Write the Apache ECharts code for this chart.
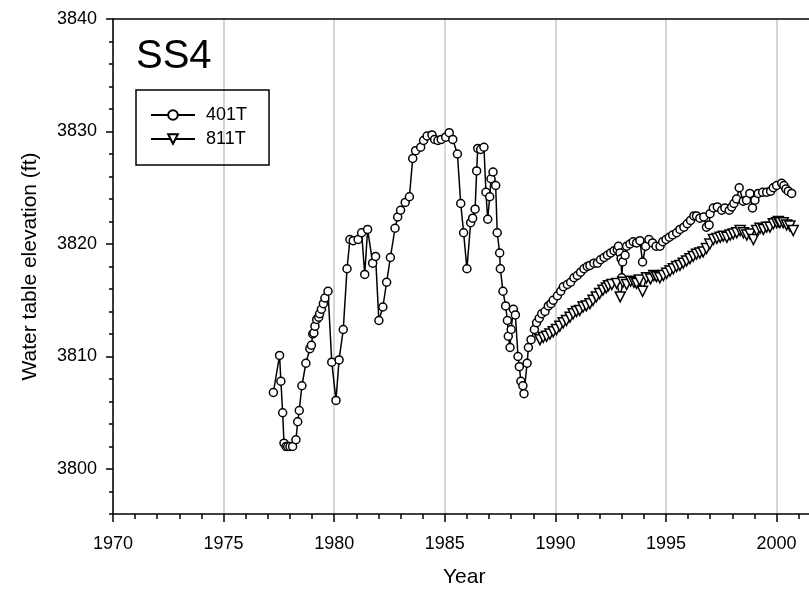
<!DOCTYPE html>
<html>
<head>
<meta charset="utf-8">
<script src="https://cdn.jsdelivr.net/npm/echarts@6/dist/echarts.min.js"></script>
<style>html,body{margin:0;padding:0;background:#fff}#c{width:809px;height:599px}</style>
</head>
<body>
<div id="c"></div>
<script>
// ---- data ----
const years401T = [1977.25,1977.53,1977.59,1977.67,1977.73,1977.82,1977.90,1978.00,1978.12,1978.27,1978.35,1978.42,1978.54,1978.72,1978.90,1978.97,1979.03,1979.08,1979.13,1979.21,1979.30,1979.34,1979.42,1979.51,1979.58,1979.72,1979.89,1980.08,1980.22,1980.41,1980.58,1980.71,1980.86,1981.08,1981.24,1981.38,1981.51,1981.74,1981.87,1982.02,1982.20,1982.37,1982.54,1982.75,1982.87,1983.00,1983.21,1983.40,1983.55,1983.68,1983.91,1984.04,1984.20,1984.42,1984.54,1984.69,1984.84,1985.04,1985.20,1985.36,1985.57,1985.72,1985.85,1986.00,1986.17,1986.26,1986.37,1986.44,1986.49,1986.62,1986.77,1986.86,1986.94,1987.03,1987.09,1987.18,1987.30,1987.37,1987.48,1987.51,1987.63,1987.75,1987.83,1987.87,1987.95,1988.00,1988.10,1988.19,1988.31,1988.37,1988.44,1988.53,1988.58,1988.72,1988.78,1988.90,
1989.05,1989.15,1989.27,1989.38,1989.53,1989.68,1989.80,1989.90,1990.09,1990.24,1990.36,1990.54,1990.69,1990.84,1990.99,1991.14,1991.29,1991.44,1991.56,1991.74,1991.90,1992.04,1992.20,1992.35,1992.50,1992.65,1992.80,1992.85,1992.92,1992.97,1993.00,1993.04,1993.15,1993.22,1993.37,1993.52,1993.67,1993.82,1993.94,1994.08,1994.23,1994.39,1994.55,1994.73,1994.85,1995.00,1995.15,1995.30,1995.48,1995.63,1995.81,1995.96,1996.11,1996.26,1996.38,1996.53,1996.71,1996.83,1996.95,1996.99,1997.14,1997.32,1997.52,1997.66,1997.86,1997.97,1998.07,1998.19,1998.31,1998.49,1998.64,1998.79,1998.91,1999.02,1999.17,1999.37,1999.55,1999.73,1999.85,2000.00,2000.23,2000.33,2000.42,2000.53,2000.68];
const values401T = [3806.8,3810.1,3807.8,3805.0,3802.3,3802.0,3802.0,3802.0,3802.0,3802.6,3804.2,3805.2,3807.4,3809.4,3810.7,3811.0,3812.0,3812.1,3812.7,3813.3,3813.5,3813.8,3814.2,3814.7,3815.2,3815.8,3809.5,3806.1,3809.7,3812.4,3817.8,3820.4,3820.3,3820.4,3821.0,3817.3,3821.3,3818.3,3818.9,3813.2,3814.4,3816.6,3818.8,3821.4,3822.4,3823.0,3823.7,3824.2,3827.6,3828.3,3828.6,3829.2,3829.6,3829.7,3829.3,3829.2,3829.3,3829.5,3829.9,3829.3,3828.0,3823.6,3821.0,3817.8,3821.9,3822.3,3823.1,3826.5,3828.5,3828.4,3828.6,3824.6,3822.2,3824.2,3825.8,3826.4,3825.2,3821.0,3819.2,3817.8,3815.8,3814.5,3813.2,3811.8,3810.8,3812.4,3814.2,3813.7,3810.0,3809.1,3807.8,3807.4,3806.7,3809.4,3810.8,3811.5,
3812.4,3813.0,3813.4,3813.8,3814.0,3814.5,3814.7,3815.0,3815.4,3815.8,3816.2,3816.4,3816.6,3817.0,3817.2,3817.5,3817.8,3818.0,3818.1,3818.3,3818.3,3818.6,3818.8,3819.0,3819.2,3819.4,3819.5,3819.8,3819.2,3818.7,3817.0,3818.4,3819.0,3819.8,3820.0,3820.2,3820.1,3820.3,3818.4,3819.8,3820.4,3820.1,3819.8,3819.8,3820.2,3820.4,3820.6,3820.8,3821.0,3821.3,3821.5,3821.8,3822.1,3822.5,3822.5,3822.3,3822.4,3821.5,3821.7,3822.7,3823.2,3823.3,3823.0,3823.2,3823.0,3823.3,3823.6,3824.0,3825.0,3823.8,3823.9,3824.5,3823.2,3823.9,3824.5,3824.6,3824.6,3824.7,3825.0,3825.2,3825.4,3825.2,3824.9,3824.7,3824.5];
const years811T = [1989.30,1989.45,1989.60,1989.75,1989.90,1990.05,1990.20,1990.35,1990.50,1990.66,1990.80,1990.95,1991.10,1991.25,1991.40,1991.56,1991.70,1991.85,1992.00,1992.15,1992.30,1992.40,1992.55,1992.77,1992.93,1993.05,1993.22,1993.40,1993.55,1993.67,1993.80,1993.94,1994.12,1994.30,1994.45,1994.57,1994.72,1994.88,1995.03,1995.18,1995.33,1995.48,1995.63,1995.78,1995.93,1996.08,1996.23,1996.38,1996.53,1996.68,1996.83,1996.98,1997.14,1997.30,1997.45,1997.59,1997.75,1997.90,1998.04,1998.20,1998.35,1998.50,1998.65,1998.80,1998.95,1999.10,1999.25,1999.40,1999.55,1999.70,1999.85,2000.00,2000.08,2000.15,2000.30,2000.45,2000.60,2000.75];
const values811T = [3811.5,3811.7,3811.8,3812.0,3812.2,3812.4,3812.7,3813.0,3813.2,3813.5,3813.8,3814.0,3814.1,3814.4,3814.5,3814.7,3815.0,3815.3,3815.6,3815.9,3816.1,3816.3,3816.4,3816.5,3815.3,3816.6,3816.4,3816.7,3816.6,3816.5,3816.8,3815.8,3817.0,3816.9,3817.2,3817.1,3817.0,3817.2,3817.4,3817.6,3817.8,3818.0,3818.1,3818.3,3818.5,3818.7,3818.9,3819.1,3819.2,3819.3,3819.6,3820.0,3820.4,3820.5,3820.6,3820.7,3820.6,3820.8,3820.9,3821.0,3821.2,3821.0,3820.8,3820.9,3820.4,3821.2,3821.4,3821.3,3821.5,3821.5,3821.8,3821.9,3822.0,3821.9,3821.9,3821.7,3821.6,3821.2];
const yMajorTicks = [3800, 3810, 3820, 3830, 3840];
const seriesNames = ['401T', '811T'];
const chartLabel = 'SS4';

// ---- chart ----
const FONT = '"Liberation Sans", Arial, sans-serif';
const zip = (xs, ys) => xs.map((x, i) => [x, ys[i]]);
const chart = echarts.init(document.getElementById('c'), null, {renderer: 'canvas'});
chart.setOption({
  animation: false,
  backgroundColor: '#fff',
  grid: {left: 113, top: 19, width: 35 * 22.12, height: 44 * 11.25, outerBoundsMode: 'none', containLabel: false},
  title: {text: chartLabel, left: 136, top: 37, padding: 0,
    textStyle: {fontFamily: FONT, fontSize: 40, fontWeight: 'normal', color: '#000'}},
  legend: {
    left: 136, top: 90, orient: 'vertical',
    borderColor: '#000', borderWidth: 1.5, borderRadius: 0,
    padding: [16, 22, 17, 14], itemGap: 6,
    itemWidth: 44, itemHeight: 12,
    textStyle: {fontFamily: FONT, fontSize: 18, color: '#000', padding: [0, 0, 0, 6]},
    data: seriesNames
  },
  xAxis: [{
    type: 'value', min: 1970, max: 2005, interval: 5,
    axisLine: {lineStyle: {color: '#000', width: 1.5}},
    axisTick: {length: 8, lineStyle: {color: '#000', width: 1.5}},
    minorTick: {show: true, splitNumber: 5, length: 5, lineStyle: {color: '#000', width: 1.5}},
    axisLabel: {margin: 21, fontFamily: FONT, fontSize: 18, color: '#000', formatter: v => String(v)},
    splitLine: {show: true, lineStyle: {color: '#c8c8c8', width: 1.5}}
  }, {
    type: 'value', min: 1970, max: 2005, position: 'top',
    axisLine: {show: true, lineStyle: {color: '#000', width: 1.5}},
    axisTick: {show: false}, axisLabel: {show: false}, splitLine: {show: false}
  }],
  yAxis: [{
    type: 'value', min: 3796, max: 3840, interval: 2,
    axisLine: {show: true, lineStyle: {color: '#000', width: 1.5}},
    axisTick: {length: 4, lineStyle: {color: '#000', width: 1.5}},
    axisLabel: {show: false},
    splitLine: {show: false},
    name: 'Water table elevation (ft)', nameLocation: 'middle', nameGap: 72,
    nameTextStyle: {fontFamily: FONT, fontSize: 21, color: '#000'}
  }, {
    type: 'value', min: 3796, max: 3840, position: 'left',
    axisLine: {show: false},
    axisTick: {show: true, length: 7, customValues: yMajorTicks, lineStyle: {color: '#000', width: 1.5}},
    axisLabel: {show: true, margin: 16, customValues: yMajorTicks, fontFamily: FONT, fontSize: 18, color: '#000', formatter: v => String(v)},
    splitLine: {show: false}
  }],
  graphic: [{
    type: 'text', left: 443, top: 567,
    style: {text: 'Year', font: '21px ' + FONT, fill: '#000'}
  }],
  series: [{
    name: seriesNames[0], type: 'line', data: zip(years401T, values401T),
    symbol: 'circle', symbolSize: 8, showAllSymbol: true,
    lineStyle: {color: '#000', width: 1.5},
    itemStyle: {color: '#fff', borderColor: '#000', borderWidth: 1.5},
    z: 3
  }, {
    name: seriesNames[1], type: 'line', data: zip(years811T, values811T),
    symbol: 'triangle', symbolRotate: 180, symbolSize: 10, showAllSymbol: true,
    lineStyle: {color: '#000', width: 1.5},
    itemStyle: {color: '#fff', borderColor: '#000', borderWidth: 1.5},
    z: 4
  }]
});
</script>
</body>
</html>
